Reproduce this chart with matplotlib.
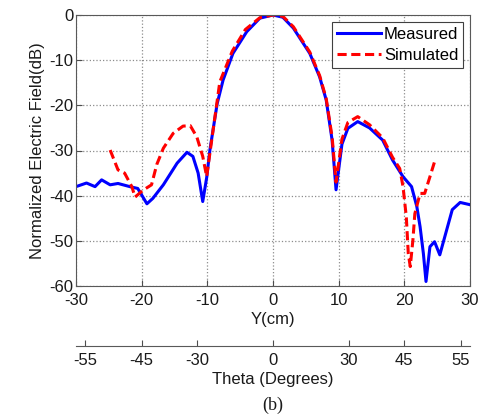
import numpy as np
import matplotlib
matplotlib.use("Agg")
import matplotlib.pyplot as plt

plt.rcParams['font.family'] = ['Liberation Sans', 'DejaVu Sans']
plt.rcParams['axes.unicode_minus'] = False

# Measured pattern, Y (cm) vs normalized field (dB)
meas_y = [-30, -28.4, -27.1, -26.1, -24.8, -23.6, -21.8, -20.6, -19.2, -18.3, -16.7,
          -14.6, -13.1, -12.2, -11.4, -10.7, -10.1, -9.6, -8.5, -7.6, -6.1, -4.0,
          -2.0, 0.0, 1.5, 3.1, 5.6, 7.1, 8.1, 9.0, 9.6, 10.5, 11.4, 12.9, 14.7, 16.7,
          18.2, 19.8, 21.1, 21.9, 22.4, 22.9, 23.3, 23.9, 24.6, 25.4, 27.3, 28.5, 30]
meas_db = [-38, -37.2, -38, -36.5, -37.6, -37.3, -38, -38.4, -41.8, -40.6, -37.6,
           -32.8, -30.4, -31.3, -35, -41.3, -36, -29.8, -19.6, -14.4, -8.5, -3.7,
           -0.7, 0, -0.5, -2.9, -8.5, -13.7, -18.8, -27.7, -38.7, -28.6, -25.1, -23.6,
           -25, -27.7, -32.1, -35.8, -38, -42.4, -46.9, -52.8, -59, -51.3, -50.2,
           -53.1, -43.1, -41.5, -42]

# Simulated pattern
sim_y = [-24.8, -23.6, -22.6, -21.5, -21.0, -19.8, -18.5, -17.7, -16.7, -15.2,
         -13.7, -12.6, -11.6, -10.7, -10.1, -9.6, -8.1, -6.2, -4.2, -2.0, 0.0,
         1.5, 3.1, 5.6, 7.1, 8.1, 9.0, 9.6, 10.5, 11.4, 12.9, 14.7, 16.7, 18.2,
         19.3, 19.8, 20.3, 20.6, 20.9, 21.3, 21.6, 22.4, 23.1, 23.9, 24.6]
sim_db = [-29.9, -34.3, -35, -38, -40.3, -38.8, -37.6, -33.1, -29.5, -26.2,
          -24.6, -24.5, -27, -31.3, -35.8, -30.5, -14.8, -8, -3.2, -0.6, 0,
          -0.3, -2.6, -8.2, -13.4, -18.5, -27, -37, -27.5, -23.8, -22.5, -24.3,
          -27.2, -31.5, -34, -38, -44.7, -52.8, -55.7, -49.9, -44, -39.5, -39.5,
          -35.8, -32.5]

theta_ticks = [-55, -45, -30, 0, 30, 45, 55]
x_ticks = [-30, -20, -10, 0, 10, 20, 30]
y_ticks = [-60, -50, -40, -30, -20, -10, 0]

FS = 12
W, H = 481, 416
fig = plt.figure(figsize=(W / 100, H / 100), dpi=100)
ax = fig.add_axes([76 / W, 1 - 286 / H, 394 / W, 271 / H])

ax.plot(meas_y, meas_db, color='blue', lw=2.2, label='Measured')
ax.plot(sim_y, sim_db, color='red', lw=2.2, ls='--', dashes=(3, 1.5), label='Simulated')

ax.set_xlim(-30, 30)
ax.set_ylim(-60, 0)
ax.set_xticks(x_ticks)
ax.set_yticks(y_ticks)
ax.tick_params(direction='in', labelsize=FS, colors='0.3', labelcolor='0.1',
               length=4, pad=2)
ax.tick_params(axis='x', pad=5)
ax.grid(True, ls=':', color='0.55', lw=0.9)
for s in ax.spines.values():
    s.set_color('0.35')
ax.set_xlabel('Y(cm)', fontsize=FS, labelpad=3, color='0.1')
ax.set_ylabel('Normalized Electric Field(dB)', fontsize=FS, labelpad=3, color='0.1')
leg = ax.legend(loc='upper right', fontsize=FS, fancybox=False, framealpha=1,
                edgecolor='0.25', handlelength=2.6, handletextpad=0.2,
                borderpad=0.3, labelspacing=0.35, borderaxespad=0.4)
leg.get_frame().set_linewidth(0.8)

# second axis: theta in degrees, Y = 20 tan(theta)
ax2 = fig.add_axes([76 / W, 1 - 346 / H, 394 / W, 0.001])
ax2.set_xlim(-30, 30)
ax2.set_xticks([20 * np.tan(np.radians(t)) for t in theta_ticks])
ax2.set_xticklabels([str(t) for t in theta_ticks])
ax2.set_yticks([])
for k in ['top', 'left', 'right']:
    ax2.spines[k].set_visible(False)
ax2.spines['bottom'].set_color('0.35')
ax2.tick_params(direction='in', labelsize=FS, colors='0.3', labelcolor='0.1',
                length=4, pad=5)
ax2.set_xlabel('Theta (Degrees)', fontsize=FS, labelpad=3, color='0.1')
ax2.patch.set_visible(False)

fig.text(273 / W, 1 - 405 / H, '(b)', ha='center', va='center', fontsize=13,
         family='Liberation Serif', color='0.1')

fig.savefig('out.png', dpi=100)
